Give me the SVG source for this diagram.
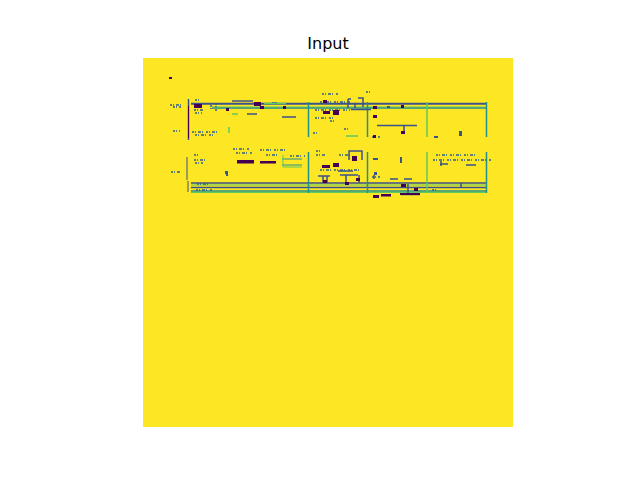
<svg xmlns="http://www.w3.org/2000/svg" width="640" height="480" viewBox="0 0 640 480">
<style>
text{font-family:"DejaVu Sans",sans-serif;fill:#000}
.b{stroke:#3b528b;fill:none;stroke-width:2}
.t{stroke:#21918c;fill:none;stroke-width:2}
.g{stroke:#5ec962;fill:none;stroke-width:1}
.d{stroke:#440154;fill:none;stroke-width:2}
.n{stroke:#2c5f8a;fill:none;stroke-width:1.500;stroke-dasharray:2 1 1 2 3 1 1 3}
.m{fill:#3b528b}
.k{fill:#440154}
</style>
<rect width="640" height="480" fill="#fff"/>
<text x="328" y="49" text-anchor="middle" style="font-size:16px">Input</text>
<rect x="143" y="58" width="370" height="369" fill="#fde725"/>
<g>
<path class="b" d="M191 103.800H487"/>
<path class="t" d="M212 108H487" style="stroke-width:1.500"/>
<path class="g" d="M212 106.500H487" style="stroke-width:.5"/>
<path class="b" d="M188.500 99V140" style="stroke-width:1.500"/>
<path class="d" d="M188.500 106V138" style="stroke-width:1"/>
<path class="t" d="M308.500 102V137M367.500 102V137M486.500 102V137" style="stroke-width:1.500"/>
<path class="g" d="M427 102V137" style="stroke-width:1.500"/>
<path class="b" d="M232 101H253M272 103H277M282 117H296M351 109.500H371M377 125.500H417M404 125V132M358 98H363V107M348 99H351M348 99V108M355 103V108M257 114H247" style="stroke-width:1.500"/>
<path class="g" d="M264 103.500H286M232 114H238M229 127V133M346 136H358" style="stroke-width:1.500"/>
<path class="n" d="M170 105H182M173 107H181M173 131H180M195 100H199M194 110H204M195 113H202M192 132H217M195 135H213M322 94H338M320 102H350M315 110H350M315 118H335M330 121H336M313 133H319M344 129H350M316 151H321M372 137H380M216 103V111M211 105V111M366 92H371"/>
<rect class="k" x="169" y="77" width="3" height="2"/>
<rect class="k" x="194" y="104" width="8" height="4"/>
<rect class="k" x="254" y="102" width="7" height="4"/><rect class="k" x="226" y="108" width="3" height="3"/>
<rect class="k" x="260" y="106" width="4" height="3"/><rect class="k" x="283" y="106" width="3" height="3"/>
<rect class="k" x="323" y="111" width="7" height="3"/><rect class="k" x="333" y="110" width="6" height="5"/><rect class="k" x="323" y="100" width="4" height="3"/>
<rect class="k" x="373" y="106" width="4" height="3"/><rect class="k" x="373" y="115" width="4" height="3"/><rect class="k" x="401" y="105" width="3" height="3"/><rect class="k" x="401" y="131" width="4" height="3"/><rect class="k" x="373" y="135" width="3" height="3"/>
<rect class="m" x="434" y="136" width="4" height="2"/><rect class="m" x="459" y="131" width="3" height="5"/><rect class="m" x="387" y="106" width="3" height="2"/>
<path class="b" d="M191 183H487M191 187.500H487" style="stroke-width:1.500"/>
<path class="t" d="M191 191H487" style="stroke-width:1.500"/>
<path class="g" d="M191 192.500H487M191 185H487" style="stroke-width:1"/>
<path class="b" d="M187 157V180M188 181V192" style="stroke-width:1"/>
<path class="t" d="M308.500 152V193M367.500 152V193M486.500 152V193" style="stroke-width:1.500"/>
<path class="g" d="M427 152V193" style="stroke-width:1.500"/>
<path class="t" d="M282 159H302M282 165H302" style="stroke-width:1"/>
<path class="g" d="M283 155V167H302" style="stroke-width:1"/>
<rect class="k" x="237" y="160" width="17" height="3.500"/>
<rect class="k" x="260" y="161" width="16" height="2.500"/>
<path class="n" d="M171 172H181M194 155H200M194 160H205M195 163H203M233 149H250M236 153H252M260 150H285M266 155H280M290 156H305M197 184H211M196 190H212M316 155H326M320 170H360M372 177H380M433 160H492M436 155H475M339 155H350M432 190H438"/>
<rect class="k" x="322" y="165" width="8" height="3"/><rect class="k" x="333" y="163" width="6" height="4"/><rect class="k" x="352" y="156" width="5" height="5"/>
<path class="b" d="M349 160V151H362V160M318 176H330M340 175H358M338 171H353M346 175V182M327 176V183M323 176V183M359 175V183M374 175V179M390 179H398M404 179H412M408 184V195M401 194.500H420M441 161V166M440 164H448M466 165H476M461 188V183" style="stroke-width:1.500"/>
<rect class="k" x="345" y="182" width="4" height="3"/><rect class="k" x="323" y="180" width="4" height="3"/><rect class="k" x="356" y="178" width="4" height="3"/>
<rect class="k" x="373" y="195" width="6" height="3"/><rect class="k" x="381" y="194" width="10" height="2.500"/><rect class="k" x="401" y="184" width="5" height="3"/><rect class="k" x="414" y="188" width="4" height="3"/><rect class="k" x="400" y="193" width="20" height="2"/>
<rect class="m" x="400" y="157" width="2" height="6"/><rect class="m" x="373" y="158" width="5" height="2"/><rect class="m" x="374" y="172" width="3" height="3"/>
<rect class="m" x="225" y="171" width="3" height="3"/><rect class="m" x="226" y="173" width="2" height="3"/>
</g>
</svg>
